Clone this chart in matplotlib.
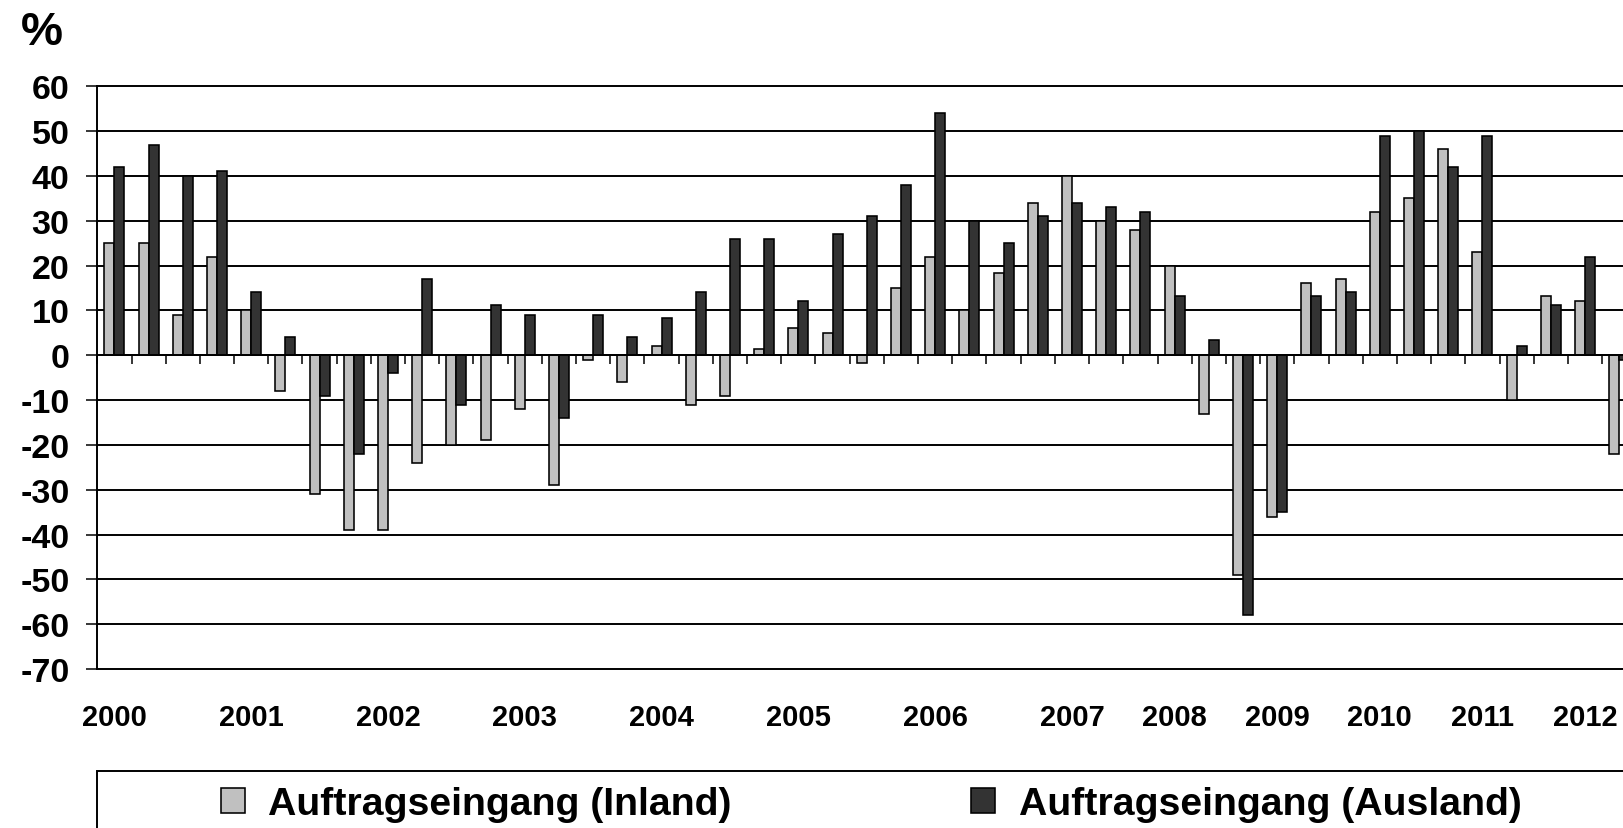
import numpy as np
import matplotlib
matplotlib.use("Agg")
import matplotlib.pyplot as plt
from matplotlib.patches import Rectangle, Patch
import matplotlib.transforms as mtransforms

# ---- data ----
inland = [25, 25, 9, 22, 10, -8, -31, -39, -39, -24, -20, -19, -12, -29, -1, -6,
          2, -11, -9, 1.3, 6, 5, -1.8, 15, 22, 10, 18.3, 34, 40, 30, 28, 20, -13,
          -49, -36, 16.2, 17, 32, 35, 46, 23, -10, 13.3, 12, -22]
ausland = [42, 47, 40, 41, 14, 4, -9, -22, -4, 17, -11, 11.3, 9, -14, 9, 4,
           8.3, 14, 26, 26, 12, 27, 31, 38, 54, 30, 25, 31, 34, 33, 32, 13.3, 3.3,
           -58, -35, 13.3, 14.2, 49, 50, 42, 49, 2, 11.3, 22, -1]
year_labels = ["2000", "2001", "2002", "2003", "2004", "2005", "2006",
               "2007", "2008", "2009", "2010", "2011", "2012"]
year_label_pos = [0, 4, 8, 12, 16, 20, 24, 28, 31, 34, 37, 40, 43]
yticks = [60, 50, 40, 30, 20, 10, 0, -10, -20, -30, -40, -50, -60, -70]
series_names = ["Auftragseingang (Inland)", "Auftragseingang (Ausland)"]
colors = ["#C0C0C0", "#333333"]

plt.rcParams['font.family'] = ['Liberation Sans', 'DejaVu Sans']
plt.rcParams['font.weight'] = 'bold'

W, H = 1623, 829
fig = plt.figure(figsize=(W / 100, H / 100), dpi=100)

n = len(inland)
n_show = 48
cat_px = 34.2
left_px, top_px, bottom_px = 97.3, 87.3, 670.0
ax = fig.add_axes([left_px / W, 1 - bottom_px / H,
                   n_show * cat_px / W, (bottom_px - top_px) / H])

x = np.arange(n)
w = 0.295
ax.bar(x - w / 2, inland, width=w, color=colors[0], edgecolor='black',
       linewidth=1.15, zorder=3)
ax.bar(x + w / 2, ausland, width=w, color=colors[1], edgecolor='black',
       linewidth=1.15, zorder=3)

ax.set_xlim(-0.5, n_show - 0.5)
ax.set_ylim(min(yticks), max(yticks))

for yv in yticks:
    ax.axhline(yv, color='black', linewidth=1.4, zorder=1, clip_on=False)

for s in ['top', 'right']:
    ax.spines[s].set_visible(False)
ax.spines['left'].set_linewidth(1.4)
ax.spines['bottom'].set_position(('data', 0))
ax.spines['bottom'].set_linewidth(1.4)
ax.spines['bottom'].set_zorder(4)

ax.set_yticks(yticks)
ax.set_yticklabels([str(v) for v in yticks])
ax.tick_params(axis='y', direction='out', length=8, width=1.1, pad=12,
               labelsize=24.5)
ax.set_xticks(np.arange(-0.5, n_show, 1.0))
ax.set_xticklabels([])
ax.tick_params(axis='x', direction='out', length=6.5, width=1.1)
for lbl in ax.get_yticklabels():
    lbl.set_fontweight('bold')

# year labels below plot area
trans = mtransforms.blended_transform_factory(ax.transData, fig.transFigure)
for lab, pos in zip(year_labels, year_label_pos):
    ax.text(pos, 1 - 726 / H, lab, transform=trans, ha='center', va='baseline',
            fontsize=21, fontweight='bold', clip_on=False)

# "%" label
fig.text(21 / W, 1 - 45 / H, "%", ha='left', va='baseline', fontsize=34,
         fontweight='bold')

# legend frame
fig.patches.append(Rectangle((97.3 / W, 1 - 900 / H), 1700 / W, (900 - 771.7) / H,
                             transform=fig.transFigure, fill=False,
                             edgecolor='black', linewidth=1.4))
handles = [Patch(facecolor=c, edgecolor='black', linewidth=1.15) for c in colors]
fig.legend(handles, series_names, loc='center left',
           bbox_to_anchor=(221 / W, 1 - 805 / H), ncol=2, frameon=False,
           borderpad=0, borderaxespad=0, handlelength=0.6, handleheight=0.6,
           handletextpad=0.6, columnspacing=6.1,
           prop={'size': 28.3, 'weight': 'bold'})

fig.savefig("out.png", dpi=100)
